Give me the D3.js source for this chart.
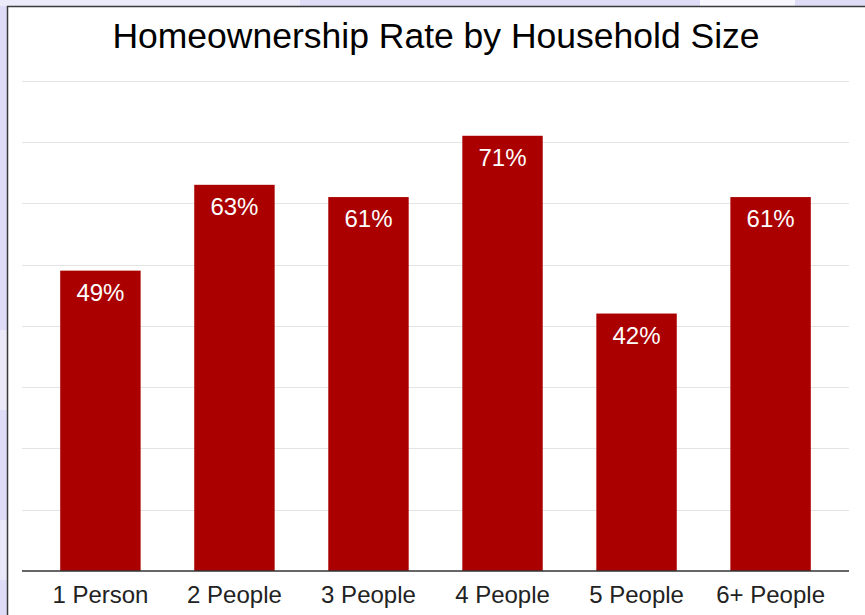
<!DOCTYPE html>
<html>
<head>
<meta charset="utf-8">
<script src="https://cdn.jsdelivr.net/npm/d3@7"></script>
<style>
  html, body { margin: 0; padding: 0; background: #dedcf6; }
  svg { display: block; }
</style>
</head>
<body>
<svg id="chart" width="865" height="615"></svg>
<script>
// Household size categories and homeownership rates (%)
const categories = ["1 Person", "2 People", "3 People", "4 People", "5 People", "6+ People"];
const rates = [49, 63, 61, 71, 42, 61];
const gridTicks = [10, 20, 30, 40, 50, 60, 70, 80];
const title = "Homeownership Rate by Household Size";

const svg = d3.select("#chart");
const W = 865, H = 615;
const FONT = "Arial, 'Liberation Sans', sans-serif";

// backdrop with soft pale patches
const bg = svg.append("g");
bg.append("rect").attr("width", W).attr("height", H).attr("fill", "#dedcf6");
[[0, 0, 300, 6, "#ecebfa"], [700, 0, 95, 6, "#f7f7fd"], [0, 330, 7, 80, "#eceaf9"], [0, 520, 7, 60, "#e9e8f8"]]
  .forEach(p => bg.append("rect").attr("x", p[0]).attr("y", p[1]).attr("width", p[2]).attr("height", p[3]).attr("fill", p[4]));

// white chart panel with dark frame on top/left
svg.append("rect").attr("x", 7.5).attr("y", 6.5).attr("width", W).attr("height", H)
  .attr("fill", "#ffffff").attr("stroke", "#3a3a3a").attr("stroke-width", 1.5);

const plot = { left: 22, right: 849, top: 80.6, bottom: 571 };

const x = d3.scaleBand()
  .domain(categories)
  .range([plot.left, plot.right])
  .paddingInner(0.4)
  .paddingOuter(0.285);

const y = d3.scaleLinear()
  .domain([0, 80])
  .range([plot.bottom, plot.top]);

// horizontal gridlines
svg.append("g")
  .selectAll("line")
  .data(gridTicks)
  .join("line")
  .attr("x1", plot.left).attr("x2", plot.right)
  .attr("y1", d => Math.round(y(d)) + 0.5).attr("y2", d => Math.round(y(d)) + 0.5)
  .attr("stroke", "#e4e4e4").attr("stroke-width", 1);

// bars
svg.append("g")
  .selectAll("rect")
  .data(rates)
  .join("rect")
  .attr("x", (d, i) => x(categories[i]))
  .attr("y", d => y(d))
  .attr("width", x.bandwidth())
  .attr("height", d => y(0) - y(d))
  .attr("fill", "#aa0000");

// value labels inside bars
svg.append("g")
  .selectAll("text")
  .data(rates)
  .join("text")
  .attr("x", (d, i) => x(categories[i]) + x.bandwidth() / 2)
  .attr("y", d => y(d) + 30)
  .attr("text-anchor", "middle")
  .attr("font-family", FONT)
  .attr("font-size", 24)
  .attr("fill", "#ffffff")
  .text(d => d + "%");

// category axis
const xAxis = svg.append("g")
  .attr("transform", `translate(0,${plot.bottom})`)
  .call(d3.axisBottom(x).tickSize(0).tickPadding(15));
xAxis.select(".domain").remove();
xAxis.selectAll("text")
  .attr("font-family", FONT)
  .attr("font-size", 24)
  .attr("fill", "#222222")
  .attr("dy", "0.71em");

svg.append("line")
  .attr("x1", plot.left).attr("x2", plot.right)
  .attr("y1", plot.bottom).attr("y2", plot.bottom)
  .attr("stroke", "#333333").attr("stroke-width", 1.5);

// title
svg.append("text")
  .attr("x", 436)
  .attr("y", 48)
  .attr("text-anchor", "middle")
  .attr("font-family", FONT)
  .attr("font-size", 35.5)
  .attr("fill", "#000000")
  .text(title);
</script>
</body>
</html>
